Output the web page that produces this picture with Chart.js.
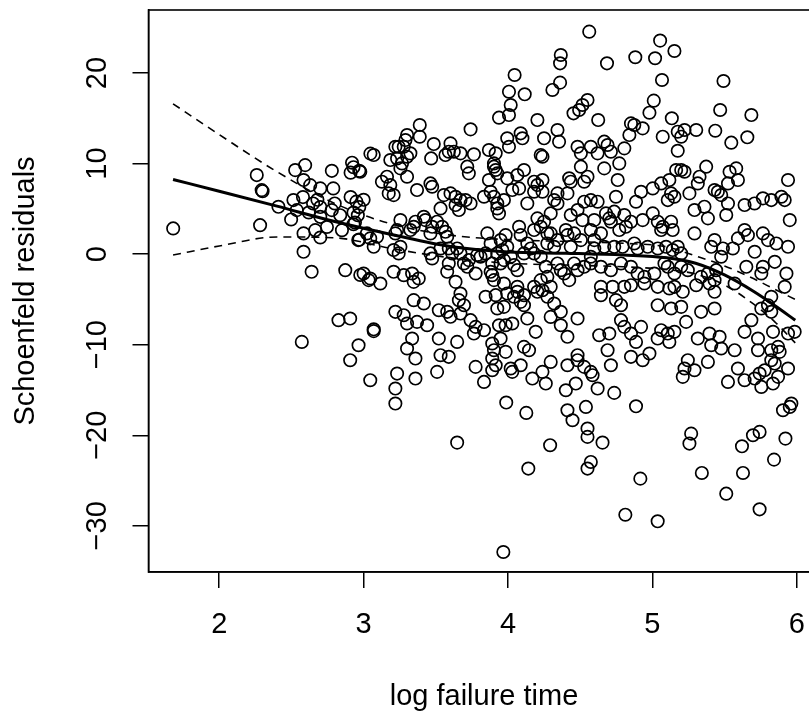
<!DOCTYPE html>
<html><head><meta charset="utf-8">
<script src="https://cdn.jsdelivr.net/npm/chart.js@4/dist/chart.umd.min.js"></script>
<style>html,body{margin:0;padding:0;background:#fff;overflow:hidden;width:809px;height:718px}#wrap{width:830px;height:718px}</style>
</head><body><div id="wrap"><canvas id="c" width="830" height="718"></canvas></div>
<script>
// tick labels
const xTicks = [2, 3, 4, 5, 6];
const yTicks = [-30, -20, -10, 0, 10, 20];

// Schoenfeld residuals vs log failure time (region by region)
const timeA = [1.681,2.283,2.26,2.294,2.30,2.41,2.498,2.526,2.595,2.584,2.63,2.78,2.70,2.79,2.514,2.58,2.65,2.68,2.70,2.62,2.537,2.70,2.746,2.665,2.70,2.584,2.584,2.64,2.873,2.977,3.035,2.78,2.838,2.80,2.91,2.95,2.97,2.93,3.0,2.96,2.85,2.94,2.93,2.963,2.97,2.92,2.93,2.97,2.91,3.047];
const residA = [2.84,3.2,8.73,7.07,6.95,5.23,3.83,9.28,9.83,8.18,7.62,9.2,7.26,7.26,5.97,6.3,5.6,6.0,5.2,4.6,4.86,4.12,3.0,2.65,1.84,2.29,0.26,-1.95,-1.77,-2.3,-2.87,4.86,4.3,5.6,6.3,5.8,5.2,4.6,6.0,4.3,2.65,3.5,3.3,1.55,1.6,10.1,9.6,9.2,9.0,11.1];

const timeB = [4.563,4.366,4.361,4.361,4.308,4.046,4.007,4.116,4.019,3.938,4.007,4.204,4.343,4.354,4.493,4.516,4.551,4.454,3.741,3.389,3.389,3.301,3.29,3.278,3.22,3.243,3.486,3.602,3.625,3.567,3.59,3.671,3.764,3.868,3.915,3.995,4.007,4.088,4.1,4.25,4.227,4.482,4.505,4.574,3.07,3.185,3.232,3.301,3.324,3.266,3.255,3.468,2.977];
const residB = [24.57,21.99,21.07,18.94,18.13,19.78,17.94,17.65,16.47,15.07,15.36,14.81,13.71,12.42,15.92,16.47,17.02,15.55,13.78,14.26,12.97,13.15,12.6,11.86,11.86,11.86,12.16,12.23,11.31,10.94,11.31,11.13,11.02,11.5,11.13,12.79,11.86,13.34,12.79,12.79,10.94,11.86,11.13,11.86,10.94,10.39,10.57,10.76,11.13,10.02,9.47,10.57,9.1];

const timeC = [3.127,3.162,3.185,3.208,3.174,3.301,3.37,3.463,3.475,3.556,3.602,3.637,3.671,3.706,3.741,3.533,3.66,3.637,3.718,3.729,3.903,3.915,3.926,3.903,3.868,3.88,3.903,3.926,3.938,3.926,3.972,3.834,3.995,4.065,4.077,4.03,4.111,4.134,4.181,4.204,4.239,4.239,4.181,4.239,4.343,4.32,4.343,4.412,4.435,4.424,4.505,4.528,4.528,4.435,4.482,4.516,4.574];
const residC = [8.0,8.55,7.63,6.52,6.71,8.55,7.08,7.81,7.44,6.52,6.71,6.34,5.97,5.97,5.6,5.05,4.87,5.42,9.66,8.92,9.66,9.29,8.92,10.02,8.18,6.89,6.34,5.6,4.5,5.05,5.97,6.34,8.37,8.74,7.26,7.08,9.29,5.6,8.0,7.63,8.18,6.89,6.89,10.76,6.71,5.97,5.6,6.71,8.0,8.37,9.66,8.0,5.79,4.32,4.87,3.76,5.97];

const timeD = [4.296,4.25,4.227,4.204,4.181,4.273,4.296,4.343,4.32,4.273,4.401,4.412,4.458,4.435,4.505,4.574,4.077,4.088,4.134,4.158,4.111,3.984,3.949,3.995,3.961,3.926,4.019,3.972,3.949,4.042,4.065,3.857,3.88,3.845,3.81,3.787,3.891,3.88,3.891,3.903,3.776,3.718,3.695,3.729,3.671];
const residD = [4.5,3.58,3.02,3.95,2.66,2.29,2.29,1.55,0.81,1.18,2.66,2.1,2.29,0.81,1.55,2.66,3.02,2.1,1.18,0.63,0.08,2.1,1.55,0.81,0.45,0.08,-0.29,-0.66,-1.03,-1.21,-1.77,2.29,1.18,0.08,-0.29,-0.11,-1.03,-1.95,-2.32,-2.87,-2.14,-1.4,-1.03,-0.66,0.08];

const timeE = [3.648,3.614,3.59,3.533,3.579,3.567,3.544,3.509,3.475,3.463,3.428,3.417,3.359,3.347,3.324,3.255,3.232,3.22,3.255,3.243,3.208,3.093,3.07,3.046,3.023,3.208,3.278,3.336,3.382,3.046,3.116,3.0,3.463,3.475,3.579,3.637,3.59];
const residE = [0.63,0.08,0.63,0.63,1.92,2.47,3.02,3.58,3.02,2.29,3.76,4.13,3.58,3.02,2.66,3.76,2.66,2.29,0.81,0.08,0.45,1.92,0.81,1.74,2.29,-1.95,-2.32,-2.14,-2.69,-2.69,-3.24,-2.14,0.08,-0.48,-1.95,-3.06,-1.03];

const timeF = [4.181,4.227,4.262,4.273,4.227,4.343,4.366,4.389,4.424,4.458,4.482,4.528,4.574,3.972,4.065,4.181,4.296];
const residF = [0.08,-0.29,-1.4,-2.51,-2.87,-1.03,-1.77,-2.14,-2.87,-1.03,-1.77,-1.4,-0.29,-3.24,-3.61,-3.61,-3.61];

const timeG = [3.347,3.347,3.417,3.22,3.278,3.301,3.37,3.44,3.07,3.07,3.336,3.301,3.359,3.521,3.533,3.59,3.509,3.359,3.232,3.22,3.22,3.046,3.648];
const residG = [-3.06,-5.08,-5.45,-6.37,-6.74,-7.66,-7.48,-7.85,-8.3,-8.5,-9.32,-10.42,-11.53,-9.32,-11.16,-11.34,-13.0,-13.74,-13.19,-14.84,-16.5,-13.92,-9.69];

const timeH = [3.521,3.579,3.602,3.66,3.671,3.695,3.671,3.741,3.776,3.764,3.834,3.845,3.915,3.926,3.972,3.995,4.065,4.111,4.111,4.134,4.088,4.042,4.204,4.239,4.273,4.32,4.296,4.366,4.366,4.192];
const residH = [-6.19,-6.37,-6.92,-5.08,-4.35,-5.64,-6.56,-7.29,-8.03,-8.77,-8.4,-4.71,-4.53,-6.0,-5.82,-4.35,-4.16,-4.53,-5.64,-7.11,-5.27,-4.71,-4.16,-3.98,-4.71,-5.45,-6.93,-7.85,-6.37,-8.58];

const timeI = [3.891,3.903,3.891,3.891,3.915,3.938,3.984,4.03,3.949,3.984,4.019,4.03,4.088,4.111,4.146,4.169,4.239,4.262,4.296,3.834,3.776,4.412,4.482,4.482,4.528,4.574,4.47,4.401,4.482,4.412];
const residI = [-9.87,-10.61,-11.53,-12.82,-12.27,-7.85,-7.85,-7.66,-9.32,-10.79,-12.63,-13.0,-12.27,-10.24,-10.61,-13.74,-13.0,-14.29,-11.9,-14.11,-12.45,-12.27,-11.16,-11.71,-12.45,-13.0,-14.29,-15.03,-7.11,-9.13];

const timeJ = [4.54,4.412,4.447,4.551,4.551,4.574,4.551,3.988,4.127,4.292,4.141,3.648,3.968,2.826,2.907,2.572,2.965,2.907];
const residJ = [-16.87,-17.24,-18.34,-19.26,-20.18,-22.95,-23.68,-16.39,-17.53,-21.1,-23.68,-20.81,-32.89,-7.29,-7.11,-9.69,-10.06,-11.71];

const timeK = [5.054,5.153,4.882,5.019,4.686,5.067,5.493,5.01,4.98,5.135,5.47,5.686,4.625,4.852,4.875,4.933,4.841,5.072,5.176,5.223,5.304,5.2,5.436,5.547,5.658,5.176];
const residK = [23.58,22.43,21.74,21.63,21.07,19.23,19.12,16.95,15.62,15.0,15.92,15.36,14.81,14.44,14.26,13.89,13.15,12.97,13.52,13.71,13.71,12.97,13.63,12.31,12.9,11.42];

const timeL = [4.667,4.69,4.621,4.713,4.806,4.771,4.551,4.667,4.76,4.748,4.887,4.922,5.003,5.061,5.118,5.165,5.2,5.223,5.373,5.327,5.315,5.535,5.581,5.593,5.524,5.477,5.431,5.454,5.13,5.107,5.153,5.257,5.292,5.361,5.385,5.524,5.512];
const residL = [12.42,12.05,11.13,11.31,11.68,10.02,8.55,9.47,8.18,6.34,5.79,6.89,7.26,7.81,8.18,9.29,9.29,9.1,9.66,8.55,7.81,9.1,9.47,8.18,7.81,6.52,7.08,6.89,6.71,5.97,6.34,6.71,4.87,5.24,3.95,5.6,4.32];

const timeM = [5.639,5.708,5.766,5.824,5.894,5.917,5.94,5.952,4.621,4.598,4.679,4.702,4.713,4.736,4.806,4.852,4.771,4.817,4.644,4.598,4.933,5.003,5.038,5.072,5.13,5.141,5.061,5.292,5.431,5.489,5.408];
const residM = [5.42,5.6,6.16,5.97,6.34,5.97,8.18,3.76,5.79,3.76,4.5,3.95,3.58,4.69,4.32,3.58,2.66,3.02,2.29,1.55,3.76,4.5,3.58,3.02,3.58,2.66,2.66,2.29,1.55,0.63,0.81];

const timeN = [5.558,5.593,5.639,5.662,5.709,5.766,5.801,5.859,5.94,5.651,5.766,5.755,5.848,5.929,5.917,4.598,4.667,4.736,4.794,4.875,4.898,4.968,5.038,5.095,5.141,5.176,5.2];
const residN = [0.63,1.74,2.66,2.1,0.26,2.29,1.55,1.18,0.81,-1.4,-1.4,-2.14,-0.85,-2.14,-3.61,0.63,0.81,0.81,0.81,1.18,0.63,0.81,0.63,0.81,0.45,0.81,0.08];

const timeO = [4.574,4.644,4.713,4.783,4.852,4.898,4.945,5.014,5.084,5.107,5.153,5.2,5.246,5.338,5.385,5.431,5.442,5.477,4.806,5.153,5.57];
const residO = [-1.03,-1.4,-1.77,-1.03,-1.4,-2.14,-2.51,-2.14,-1.03,-1.4,-2.14,-1.4,-1.77,-2.51,-2.14,-2.87,-1.77,-0.29,-3.61,-3.61,-3.24];

const timeP = [4.586,4.655,4.621,4.736,4.887,4.917,4.813,5.037,4.69,4.713,4.632,4.702,4.748,4.783,4.783,4.806,4.852,4.922,4.887,4.933,4.98,4.852];
const residP = [-13.37,-20.81,-14.84,-15.32,-16.8,-24.79,-28.77,-29.5,-10.61,-12.27,-8.95,-8.77,-5.08,-5.64,-7.29,-8.03,-8.77,-8.03,-9.69,-11.71,-10.97,-11.34];

const timeQ = [4.644,4.644,4.725,4.852,4.945,5.037,5.118,5.211,5.304,5.396,5.431,5.037,5.13,5.2,5.338,5.431,5.061,5.107,5.153,5.037,5.118,5.234,5.315,5.396,5.466,5.408,5.477,5.57,5.385,5.292,5.246,5.223,5.211,5.269,5.257,5.343];
const residQ = [-3.61,-4.53,-3.61,-3.43,-3.24,-3.61,-3.79,-4.16,-3.43,-3.24,-4.16,-5.64,-6.0,-5.82,-6.37,-6.0,-8.4,-8.77,-8.58,-9.32,-9.69,-7.48,-9.32,-8.77,-9.13,-10.06,-10.42,-10.61,-11.9,-12.82,-11.71,-12.63,-13.55,-19.82,-20.92,-24.16];

const timeR = [5.512,5.628,5.621,5.697,5.743,5.843,5.922,5.743,5.905,5.963,5.952,5.639,5.709,5.755,5.836,5.871,5.94,5.848,5.824,5.778,5.743,5.524,5.593];
const residR = [-26.45,-24.16,-21.22,-20.0,-19.63,-22.69,-20.37,-28.18,-17.24,-16.5,-16.87,-13.92,-13.74,-14.66,-14.29,-13.55,-12.63,-12.08,-11.71,-12.82,-13.19,-14.11,-12.63];

const timeS = [5.639,5.686,5.732,5.732,5.824,5.871,5.882,5.94,5.986,5.836,5.824,5.755,5.801,5.824];
const residS = [-8.58,-7.29,-9.32,-10.61,-10.61,-10.24,-10.79,-8.77,-8.58,-8.58,-6.37,-6.0,-5.64,-4.71];

// smooth fit and its confidence band
const fitTime  = [1.68, 2.0, 2.4, 2.8, 3.2, 3.6, 4.0, 4.4, 4.8, 5.1, 5.3, 5.5, 5.7, 5.85, 5.99];
const fitValue = [8.25, 6.95, 5.3, 3.6, 2.15, 0.85, 0.25, 0.1, -0.1, -0.4, -1.0, -2.3, -4.1, -5.7, -7.3];
const upperBand = [16.6, 13.2, 9.1, 5.6, 3.3, 2.1, 1.6, 1.4, 1.2, 0.8, -0.2, -1.3, -2.7, -3.9, -5.0];
const lowerBand = [-0.1, 0.9, 1.9, 1.8, 0.6, -0.4, -1.0, -1.2, -1.4, -1.7, -2.2, -3.4, -5.5, -7.5, -9.8];

const groups = [[timeA,residA],[timeB,residB],[timeC,residC],[timeD,residD],[timeE,residE],[timeF,residF],[timeG,residG],[timeH,residH],[timeI,residI],[timeJ,residJ],[timeK,residK],[timeL,residL],[timeM,residM],[timeN,residN],[timeO,residO],[timeP,residP],[timeQ,residQ],[timeR,residR],[timeS,residS]];
const points = [];
groups.forEach(([xs, ys]) => { const n = Math.min(xs.length, ys.length); for (let i = 0; i < n; i++) points.push({x: xs[i], y: ys[i]}); });
const toXY = (xs, ys) => xs.map((x, i) => ({x, y: ys[i]}));

const FONT = "'Liberation Sans', Arial, Helvetica, sans-serif";
const tickFont = {family: FONT, size: 29, lineHeight: 1.2};

const boxPlugin = {
  id: 'box',
  afterDraw(chart) {
    const {ctx, chartArea: a} = chart;
    ctx.save(); ctx.strokeStyle = '#000'; ctx.lineWidth = 1.6;
    ctx.strokeRect(a.left, a.top, a.right - a.left, a.bottom - a.top);
    ctx.restore();
  }
};

const lineDs = (data, width, dash) => ({data, showLine: true, borderColor: '#000', borderWidth: width, borderDash: dash, pointRadius: 0, cubicInterpolationMode: 'monotone', fill: false});

new Chart(document.getElementById('c'), {
  type: 'scatter',
  data: {datasets: [
    lineDs(toXY(fitTime, fitValue), 3, []),
    lineDs(toXY(fitTime, upperBand), 1.6, [8, 6]),
    lineDs(toXY(fitTime, lowerBand), 1.6, [8, 6]),
    {data: points, showLine: false, pointStyle: 'circle', pointRadius: 6.2, pointHoverRadius: 6.2, borderWidth: 1.7, borderColor: '#000', backgroundColor: 'rgba(0,0,0,0)'}
  ]},
  options: {
    responsive: false, devicePixelRatio: 1, animation: false,
    layout: {padding: {left: 0, top: 10, right: 10.5, bottom: 0}},
    plugins: {legend: {display: false}, tooltip: {enabled: false}},
    scales: {
      x: {
        type: 'linear', position: 'bottom', min: 1.51, max: 6.158,
        afterBuildTicks: s => { s.ticks = xTicks.map(v => ({value: v})); },
        afterFit: s => { s.height = 146; s.paddingLeft = 0; s.paddingRight = 0; },
        grid: {drawOnChartArea: false, drawTicks: true, tickLength: 16, color: '#000', tickColor: '#000', lineWidth: 1.5, tickWidth: 1.5},
        border: {display: true, color: '#000', width: 1.5},
        ticks: {font: tickFont, color: '#000', padding: 20, minRotation: 0, maxRotation: 0, autoSkip: false},
        title: {display: true, text: 'log failure time', color: '#000', font: tickFont, padding: {top: 0, bottom: 4}}
      },
      y: {
        type: 'linear', position: 'left', min: -35.1, max: 26.96,
        afterBuildTicks: s => { s.ticks = yTicks.map(v => ({value: v})); },
        afterFit: s => { s.width = 148.5; s.paddingTop = 0; s.paddingBottom = 0; },
        grid: {drawOnChartArea: false, drawTicks: true, tickLength: 16, color: '#000', tickColor: '#000', lineWidth: 1.5, tickWidth: 1.5},
        border: {display: true, color: '#000', width: 1.5},
        ticks: {font: tickFont, color: '#000', padding: 10, minRotation: 90, maxRotation: 90, crossAlign: 'center', autoSkip: false,
          callback: v => v < 0 ? '\u2212' + Math.abs(v) : String(v)},
        title: {display: true, text: 'Schoenfeld residuals', color: '#000', font: tickFont, padding: {top: 9, bottom: 0}}
      }
    }
  },
  plugins: [boxPlugin]
});
</script></body></html>
